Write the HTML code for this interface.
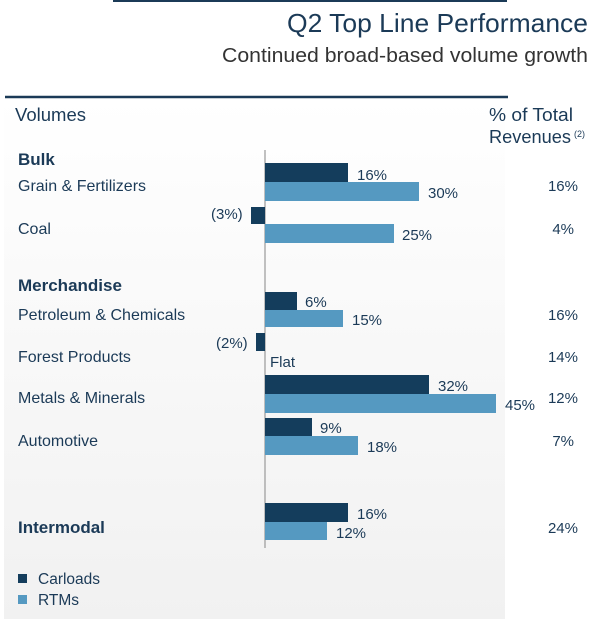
<!DOCTYPE html>
<html><head><style>body{margin:0;background:#fff}svg{display:block}</style></head><body>
<svg width="609" height="626" xmlns="http://www.w3.org/2000/svg" font-family="Liberation Sans, Arial, sans-serif">
<defs><linearGradient id="g" x1="0" y1="0" x2="0" y2="1"><stop offset="0" stop-color="#ffffff"/><stop offset="0.35" stop-color="#fafafa"/><stop offset="1" stop-color="#f1f1f1"/></linearGradient></defs>
<rect x="0" y="0" width="609" height="626" fill="#fff"/>
<rect x="4" y="98" width="501" height="521" fill="url(#g)"/>
<line x1="113" y1="1" x2="507" y2="1" stroke="#1b3a57" stroke-width="2"/>
<line x1="5" y1="97" x2="508" y2="97" stroke="#1b3a57" stroke-width="2.5"/>
<text x="287" y="32" font-size="26" fill="#1b3a57" textLength="301" lengthAdjust="spacingAndGlyphs">Q2 Top Line Performance</text>
<text x="222" y="62" font-size="20" fill="#333" textLength="366" lengthAdjust="spacingAndGlyphs">Continued broad-based volume growth</text>
<g fill="#1b3a57">
<text x="15" y="121" font-size="18" textLength="71" lengthAdjust="spacingAndGlyphs">Volumes</text>
<text x="489" y="121" font-size="18" textLength="84" lengthAdjust="spacingAndGlyphs">% of Total</text>
<text x="489" y="143" font-size="18" textLength="82" lengthAdjust="spacingAndGlyphs">Revenues</text>
<text x="574" y="137" font-size="9">(2)</text>
<g font-size="17" font-weight="bold"><text x="18" y="165">Bulk</text><text x="18" y="291">Merchandise</text><text x="18" y="533">Intermodal</text></g>
<g font-size="16"><text x="18" y="191">Grain &amp; Fertilizers</text><text x="18" y="234">Coal</text><text x="18" y="320">Petroleum &amp; Chemicals</text><text x="18" y="362">Forest Products</text><text x="18" y="403">Metals &amp; Minerals</text><text x="18" y="446">Automotive</text></g>
<g font-size="15" text-anchor="end"><text x="578" y="191">16%</text><text x="574" y="234">4%</text><text x="578" y="320">16%</text><text x="578" y="362">14%</text><text x="578" y="403">12%</text><text x="574" y="446">7%</text><text x="578" y="533">24%</text></g>
</g>
<line x1="265" y1="150" x2="265" y2="548" stroke="#999" stroke-width="1.2"/>
<g fill="#143d5c">
<rect x="265" y="163" width="83" height="19"/><rect x="251" y="207" width="14" height="17"/><rect x="265" y="292" width="32" height="18"/><rect x="256" y="333" width="9" height="18"/><rect x="265" y="375" width="164" height="19"/><rect x="265" y="418" width="47" height="18"/><rect x="265" y="503" width="83" height="19"/>
<rect x="18" y="574" width="9" height="9"/>
</g>
<g fill="#5599c1">
<rect x="265" y="182" width="154" height="19"/><rect x="265" y="224" width="129" height="19"/><rect x="265" y="310" width="78" height="17"/><rect x="265" y="394" width="231" height="19"/><rect x="265" y="436" width="93" height="19"/><rect x="265" y="522" width="62" height="18"/>
<rect x="18" y="595" width="9" height="9"/>
</g>
<g fill="#1b3a57" font-size="15">
<text x="357" y="180">16%</text><text x="428" y="198">30%</text><text x="211" y="219">(3%)</text><text x="402" y="240">25%</text>
<text x="305" y="307">6%</text><text x="352" y="325">15%</text><text x="216" y="348">(2%)</text><text x="270" y="367">Flat</text>
<text x="438" y="391">32%</text><text x="505" y="410">45%</text><text x="320" y="433">9%</text><text x="367" y="452">18%</text>
<text x="357" y="519">16%</text><text x="336" y="538">12%</text>
<text x="38" y="584" font-size="15.5">Carloads</text><text x="38" y="605" font-size="15.5">RTMs</text>
</g>
</svg>
</body></html>
